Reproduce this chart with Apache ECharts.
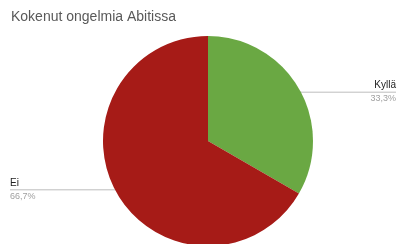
<!DOCTYPE html>
<html>
<head>
<meta charset="utf-8">
<script src="https://cdn.jsdelivr.net/npm/echarts@6/dist/echarts.min.js"></script>
<style>
  html, body { margin: 0; padding: 0; background: #fff; }
  #chartContainer { width: 406px; height: 244px; }
</style>
</head>
<body>
<div id="chartContainer"></div>
<script>
var categories = ["Kyllä", "Ei"];
var values = [1, 2];
var colors = ["#6aa843", "#a61b17"];

var W = 406;
var CENTER = [208, 141];

var CHART = echarts.init(document.getElementById("chartContainer"), null, { renderer: "canvas" });

var CHART_OPTION = {
  animation: false,
  title: {
    text: "Kokenut ongelmia Abitissa",
    left: 6,
    top: 5,
    textStyle: {
      fontFamily: "Liberation Sans",
      fontSize: 14,
      fontWeight: "normal",
      color: "#595959",
    },
  },
  series: [
    {
      type: "pie",
      center: CENTER,
      radius: 105,
      startAngle: 90,
      clockwise: true,
      data: categories.map((name, i) => ({ name: name, value: values[i], itemStyle: { color: colors[i] } })),
      label: {
        show: true,
        position: "outside",
        formatter: (p) => "{n|" + p.name + "}\n{p|" + p.percent.toFixed(1).replace(".", ",") + "%}",
        rich: {
          n: { fontFamily: "Liberation Sans", fontSize: 10, color: "#222222", lineHeight: 13 },
          p: { fontFamily: "Liberation Sans", fontSize: 9, color: "#a0a0a0", lineHeight: 13 },
        },
      },
      labelLine: {
        show: true,
        lineStyle: { color: "#bdbdbd", width: 1 },
      },
      labelLayout: function (params) {
        var pts = params.labelLinePoints;
        if (!pts) return {};
        // pull the start a little inside the slice, then go straight out to the edge
        var sx = CENTER[0] + (pts[0][0] - CENTER[0]) * 0.93;
        var sy = CENTER[1] + (pts[0][1] - CENTER[1]) * 0.93;
        var left = sx < CENTER[0];
        var ex = left ? 10 : W - 10;
        return {
          x: ex,
          y: sy,
          align: left ? "left" : "right",
          verticalAlign: "middle",
          labelLinePoints: [[sx, sy], [sx, sy], [ex, sy]],
        };
      },
    },
  ],
};

CHART.setOption(CHART_OPTION);
</script>
</body>
</html>
